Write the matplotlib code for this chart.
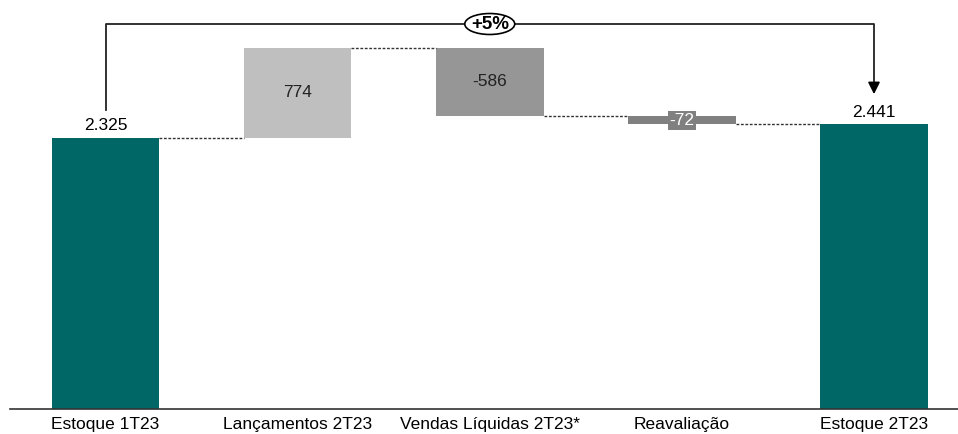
import numpy as np
import matplotlib.pyplot as plt
from matplotlib.patches import Ellipse

plt.rcParams['font.family'] = ['Liberation Sans', 'DejaVu Sans']

# Estoque (R$ milhões)
categorias = ["Estoque 1T23", "Lançamentos 2T23", "Vendas Líquidas 2T23*",
              "Reavaliação", "Estoque 2T23"]
estoque_inicial = 2325
variacoes = [774, -586, -72]
estoque_final = 2441
variacao_pct = "+5%"

teal = "#006666"
cores_var = ["#bfbfbf", "#969696", "#808080"]

fig = plt.figure(figsize=(9.58, 4.34), dpi=100)
ax = fig.add_axes([10 / 958, 25 / 434, 948 / 958, 409 / 434])

x = np.arange(len(categorias))
w = 0.56

# barras de estoque
ax.bar(x[0], estoque_inicial, width=w, color=teal)
ax.bar(x[-1], estoque_final, width=w, color=teal)
ax.text(x[0], estoque_inicial + 40, f"{estoque_inicial:,}".replace(",", "."),
        ha="center", va="bottom", fontsize=12.5)
ax.text(x[-1], estoque_final + 40, f"{estoque_final:,}".replace(",", "."),
        ha="center", va="bottom", fontsize=12.5)

# barras de variação
nivel = estoque_inicial
for i, (v, c) in enumerate(zip(variacoes, cores_var), start=1):
    base = nivel if v > 0 else nivel + v
    ax.bar(x[i], abs(v), bottom=base, width=w, color=c)
    # conector tracejado
    ax.plot([x[i - 1] + w / 2, x[i] - w / 2], [nivel, nivel],
            ls=(0, (2, 1.2)), color="#333333", lw=1.0)
    nivel += v
    if abs(v) > 200:
        ax.text(x[i], base + abs(v) / 2, str(v), ha="center", va="center",
                fontsize=12.5, color="#222222")
    else:
        ax.text(x[i], base + abs(v) / 2, str(v), ha="center", va="center",
                fontsize=12.5, color="white",
                bbox=dict(boxstyle="square,pad=0.1", fc=c, ec="none"))
ax.plot([x[-2] + w / 2, x[-1] - w / 2], [nivel, nivel],
        ls=(0, (2, 1.2)), color="#333333", lw=1.0)

# colchete com variação percentual
y_top = 3303
ax.plot([x[0], x[0], x[-1], x[-1]], [2565, y_top, y_top, 2800],
        color="#222222", lw=1.3)
ax.annotate("", xy=(x[-1], 2677), xytext=(x[-1], 2810),
            arrowprops=dict(arrowstyle="-|>,head_width=0.35,head_length=0.7",
                            color="black", lw=1.3))
xm = x[2]
ax.add_patch(Ellipse((xm, y_top), width=0.26, height=180, fc="white",
                     ec="black", lw=1.2, zorder=3))
ax.text(xm, y_top, variacao_pct, ha="center", va="center", fontsize=13.5,
        fontweight="bold", zorder=4)

ax.set_xlim((10 - 105.5) / 192.1, 4 + 84 / 192.1)
ax.set_ylim(0, 409 / 0.11656)
ax.set_xticks(x)
ax.set_xticklabels(categorias, fontsize=12.5)
ax.tick_params(axis="x", length=0, pad=6)
ax.set_yticks([])
for s in ["top", "left", "right"]:
    ax.spines[s].set_visible(False)
ax.spines["bottom"].set_color("#333333")
ax.spines["bottom"].set_linewidth(1.2)

fig.savefig("out.png", dpi=100)
